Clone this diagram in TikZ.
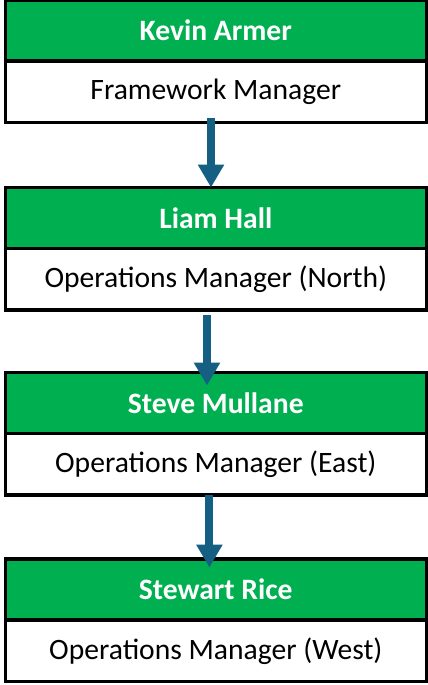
\documentclass[tikz,border=0pt]{standalone}
\usepackage{fontspec}
\setmainfont{Carlito}
\usetikzlibrary{positioning,arrows.meta}
\definecolor{headgreen}{HTML}{00B050}
\definecolor{arrowblue}{HTML}{156082}

\begin{document}
\begin{tikzpicture}[x=0.5pt,y=-0.5pt,
    head/.style={draw,line width=1.75pt,fill=headgreen,text=white,
      font=\fontsize{14.8}{16}\selectfont\bfseries,
      minimum width=210.5pt,minimum height=30.5pt,inner sep=0pt,outer sep=0pt},
    role/.style={draw,line width=1.75pt,fill=white,text=black,
      font=\fontsize{14.8}{16}\selectfont,
      minimum width=210.5pt,minimum height=30.75pt,inner sep=0pt,outer sep=0pt},
    link/.style={arrowblue,line width=4pt,-{Triangle[length=11.5pt,width=12.5pt]}}]
      \useasboundingbox (0,0) rectangle (428,685);
      \node [head] (kevin) at (215.8,30.5) {Kevin Armer};
      \node [role,below=0pt of kevin] (kevinrole) {Framework Manager};
      \node [head] (liam) at (215.8,218) {Liam Hall};
      \node [role,below=0pt of liam] (liamrole) {Operations Manager (North)};
      \node [head] (steve) at (215.8,403) {Steve Mullane};
      \node [role,below=0pt of steve] (steverole) {Operations Manager (East)};
      \node [head] (stewart) at (215.8,589.5) {Stewart Rice};
      \node [role,below=0pt of stewart] (stewartrole) {Operations Manager (West)};
      \draw [link] ([xshift=-2.4pt,yshift=2.5pt]kevinrole.south) -- ([xshift=-2.4pt]liam.north);
      \draw [link] ([xshift=-4.4pt,yshift=-2.5pt]liamrole.south) -- ([xshift=-4.4pt,yshift=-6.5pt]steve.north);
      \draw [link] ([xshift=-3.2pt]steverole.south) -- ([xshift=-3.2pt,yshift=-4.25pt]stewart.north);
    \end{tikzpicture}
\end{document}
